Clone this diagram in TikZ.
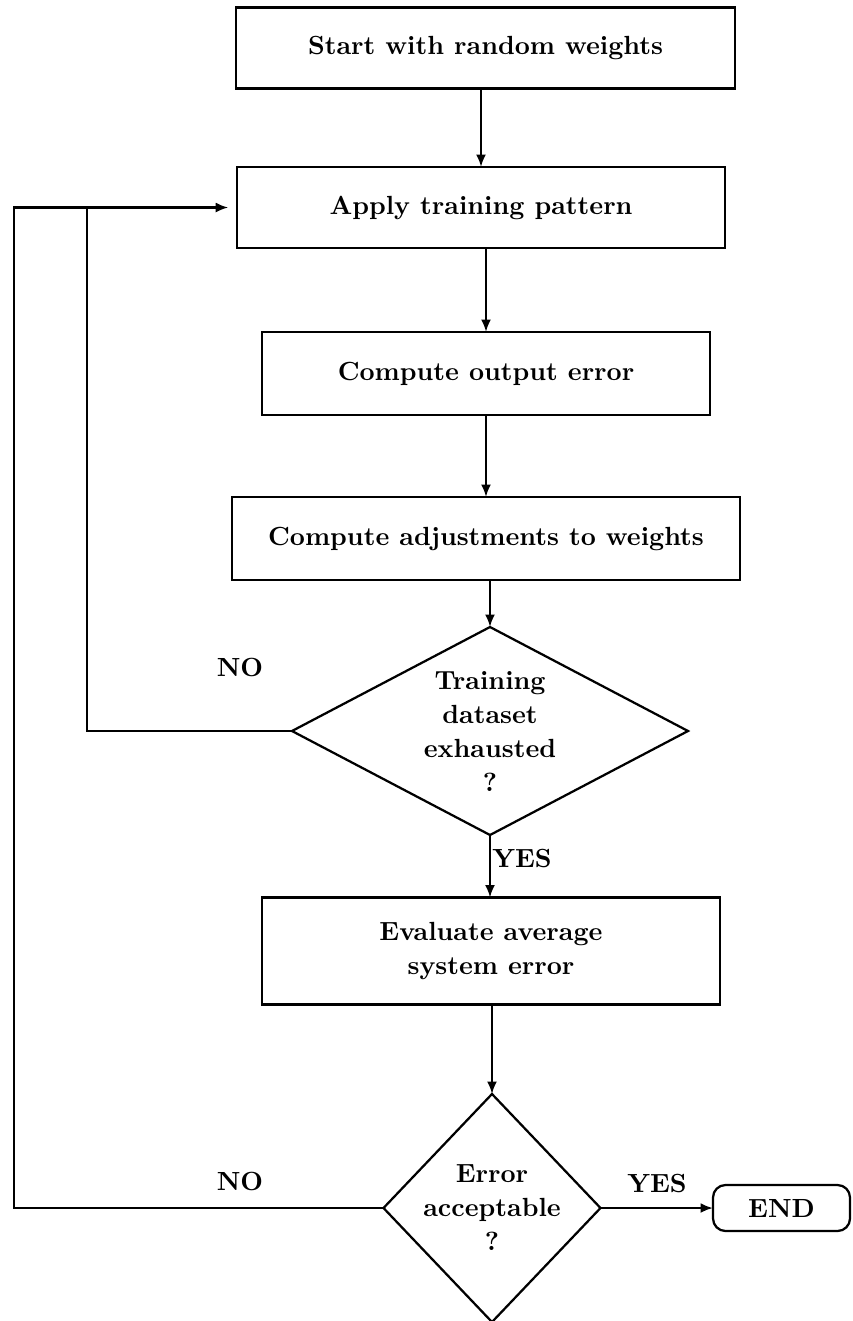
\documentclass[tikz,border=0pt]{standalone}
\usepackage{tikz}
\usetikzlibrary{shapes.geometric}
\usetikzlibrary{arrows.meta}
\newcommand{\flowfont}{\bfseries\fontsize{10.5}{13.6}\selectfont}
\tikzstyle{block}=[draw, line width=0.9pt, inner sep=0, outer sep=0, font=\flowfont]
\tikzstyle{pbox}=[block, rectangle, align=center]
\tikzstyle{dbox}=[block, diamond, align=center]
\tikzstyle{tbox}=[block, rectangle, rounded corners=5pt]
\tikzstyle{answer}=[font=\flowfont, inner sep=0]
\tikzstyle{link}=[line width=0.9pt]
\tikzstyle{flow}=[link, -{Latex[length=5pt, width=4pt]}]

\begin{document}
\begin{tikzpicture}[x=0.4pt, y=-0.4pt]
        % Page size of the scanned chart.
        \useasboundingbox (0, 0) rectangle (853, 1321);
        \node[pbox, minimum width=199.6pt, minimum height=32.4pt] (start) at (485.5, 48) {Start with random weights};
        \node[pbox, minimum width=195.2pt, minimum height=32.4pt] (apply) at (481, 207.5) {Apply training pattern};
        \node[pbox, minimum width=179.2pt, minimum height=33.2pt] (output) at (486, 373.5) {Compute output error};
        \node[pbox, minimum width=203.2pt, minimum height=33.2pt] (adjust) at (486, 538.5) {Compute adjustments to weights};
        \node[dbox, aspect=1.9, minimum width=158.4pt, minimum height=83.2pt] (more) at (490, 731) {Training\\dataset\\exhausted\\?};
        \node[pbox, minimum width=183.2pt, minimum height=42.8pt] (evaluate) at (491, 951) {Evaluate average\\system error};
        \node[dbox, aspect=0.95, inner sep=-4pt, minimum width=86.8pt, minimum height=91.2pt] (ok) at (492, 1208) {Error\\acceptable\\?};
        \node[tbox, minimum width=54.8pt, minimum height=18.4pt] (stop) at (781.5, 1208) {END};
        \node[answer] (no1) at (240, 667) {NO};
        \node[answer] (yes1) at (522, 858) {YES};
        \node[answer] (no2) at (240, 1181) {NO};
        \node[answer] (yes2) at (657, 1183) {YES};
        \coordinate (outer) at (14, 207.5);
        \coordinate (inner) at (87, 207.5);
        \draw[flow] (start.south -| apply.north) -- (apply.north);
        \draw[flow] (apply.south -| output.north) -- (output.north);
        \draw[flow] (output) -- (adjust);
        \draw[flow] (adjust.south -| more.north) -- (more.north);
        \draw[flow] (more) -- (evaluate.north -| more.south);
        \draw[flow] (evaluate.south -| ok.north) -- (ok.north);
        \draw[flow] (ok.east) -- (stop.west);
        \draw[link] (more.west) -| (inner);
        \draw[flow, shorten >=3.5pt] (ok.west) -| (outer) -- (apply.west);
    \end{tikzpicture}
\end{document}
